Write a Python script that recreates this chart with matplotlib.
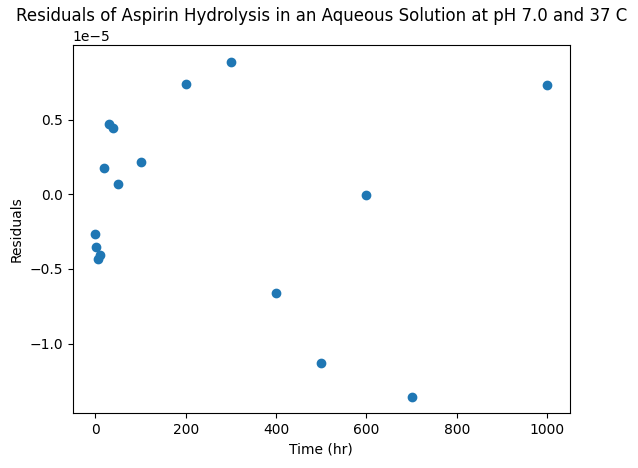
import numpy as np
import matplotlib.pyplot as plt

time_hr = [0, 1, 5, 10, 20, 30, 40, 50, 100, 200, 300, 400, 500, 600, 700, 1000]
residuals = [-0.267, -0.353, -0.433, -0.407, 0.178, 0.473, 0.442, 0.071, 0.218,
             0.740, 0.887, -0.660, -1.127, -0.007, -1.353, 0.733]
residuals = np.array(residuals) * 1e-5

fig = plt.figure(figsize=(6.38, 4.68), dpi=100)
plt.scatter(time_hr, residuals)
plt.xlabel('Time (hr)')
plt.ylabel('Residuals')
plt.title('Residuals of Aspirin Hydrolysis in an Aqueous Solution at pH 7.0 and 37 C')
plt.subplots_adjust(left=0.114, right=0.893, top=0.904, bottom=0.117)
plt.savefig('out.png')
